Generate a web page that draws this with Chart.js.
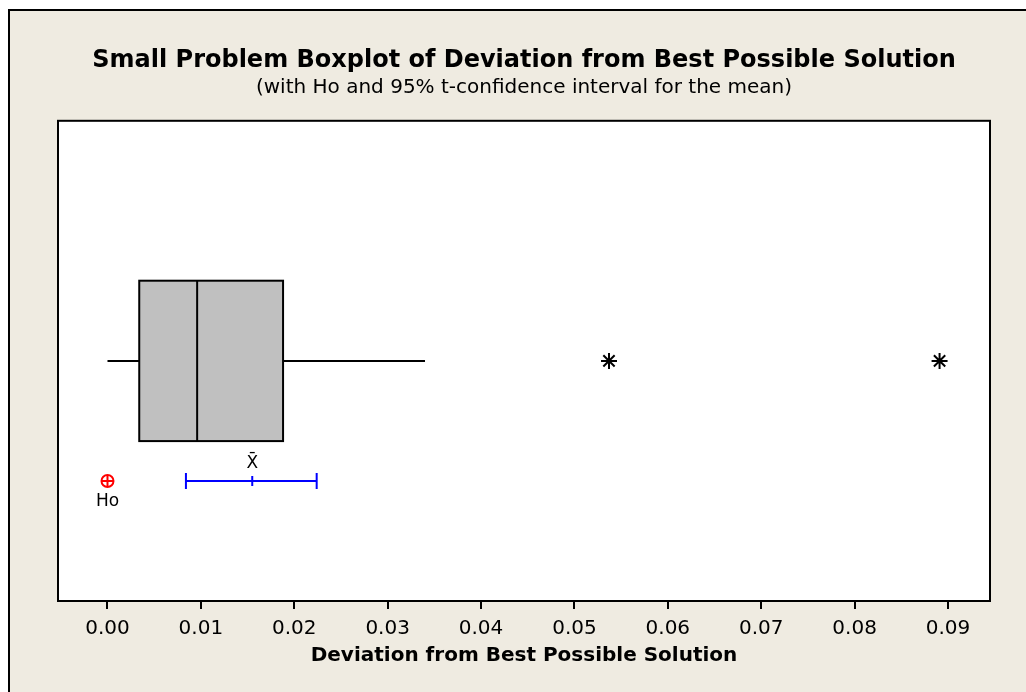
<!DOCTYPE html>
<html>
<head>
<meta charset="utf-8">
<script src="https://cdn.jsdelivr.net/npm/chart.js@4.4.1/dist/chart.umd.min.js"></script>
<style>
  html, body { margin: 0; padding: 0; background: #fff; }
  #wrap { width: 1026px; height: 692px; }
</style>
</head>
<body>
<div id="wrap"><canvas id="boxChart"></canvas></div>
<script>
// values
const xTicks = [0.00, 0.01, 0.02, 0.03, 0.04, 0.05, 0.06, 0.07, 0.08, 0.09];
const boxStats = [0.0, 0.0034, 0.0096, 0.0188, 0.034]; // low whisker, Q1, median, Q3, high whisker
const outliers = [0.0537, 0.0891];
const ciBounds = [0.0084, 0.0224];
const meanValue = 0.0155;
const hoValue = 0.0;

const BOX_Y = 0.5, BOX_HALF = 0.167, CI_Y = 0.25;
const FONT = "'DejaVu Sans', Verdana, sans-serif";

// draws the beige panel, white plot area, box and whiskers, and labels
const boxplotPlugin = {
    id: 'boxplotPlugin',
    beforeDraw(chart) {
        const c = chart.ctx, a = chart.chartArea;
        c.save();
        c.fillStyle = '#ffffff';
        c.fillRect(0, 0, chart.width, chart.height);
        c.fillStyle = '#efebe1';
        c.fillRect(9, 10, chart.width - 9, chart.height - 10);
        c.strokeStyle = '#000';
        c.lineWidth = 2;
        c.beginPath();
        c.moveTo(9, chart.height);
        c.lineTo(9, 10);
        c.lineTo(chart.width, 10);
        c.stroke();
        c.fillStyle = '#ffffff';
        c.fillRect(a.left, a.top, a.right - a.left, a.bottom - a.top);
        c.restore();
    },
    beforeDatasetsDraw(chart) {
        const c = chart.ctx, x = chart.scales.x, y = chart.scales.y;
        const [lo, q1, med, q3, hi] = boxStats.map(v => x.getPixelForValue(v));
        const yc = y.getPixelForValue(BOX_Y);
        const yt = y.getPixelForValue(BOX_Y + BOX_HALF);
        const yb = y.getPixelForValue(BOX_Y - BOX_HALF);
        c.save();
        c.strokeStyle = '#000';
        c.lineWidth = 2;
        c.beginPath();
        c.moveTo(lo, yc); c.lineTo(q1, yc);
        c.moveTo(q3, yc); c.lineTo(hi, yc);
        c.stroke();
        c.fillStyle = '#c0c0c0';
        c.fillRect(q1, yt, q3 - q1, yb - yt);
        c.strokeRect(q1, yt, q3 - q1, yb - yt);
        c.beginPath();
        c.moveTo(med, yt); c.lineTo(med, yb);
        c.stroke();
        c.restore();
    },
    afterDraw(chart) {
        const c = chart.ctx, a = chart.chartArea, x = chart.scales.x, y = chart.scales.y;
        c.save();
        c.strokeStyle = '#000';
        c.lineWidth = 2;
        c.strokeRect(a.left, a.top, a.right - a.left, a.bottom - a.top);
        c.fillStyle = '#000';
        c.font = '17px ' + FONT;
        c.textAlign = 'center';
        c.textBaseline = 'middle';
        c.fillText('X\u0304', x.getPixelForValue(meanValue), y.getPixelForValue(CI_Y) - 17);
        c.fillText('Ho', x.getPixelForValue(hoValue), y.getPixelForValue(CI_Y) + 21);
        c.restore();
    }
};

const ctx = document.getElementById('boxChart').getContext('2d');
new Chart(ctx, {
    type: 'scatter',
    data: {
        datasets: [{
            label: 'Outliers',
            data: outliers.map(v => ({ x: v, y: BOX_Y })),
            pointStyle: 'star',
            radius: 8,
            borderColor: '#000',
            borderWidth: 2
        }, {
            label: '95% CI',
            data: ciBounds.map(v => ({ x: v, y: CI_Y })),
            showLine: true,
            borderColor: '#0000ff',
            borderWidth: 2,
            pointStyle: 'line',
            rotation: 90,
            radius: 8,
            pointBorderColor: '#0000ff',
            pointBorderWidth: 2
        }, {
            label: 'Mean',
            data: [{ x: meanValue, y: CI_Y }],
            pointStyle: 'line',
            rotation: 90,
            radius: 5,
            borderColor: '#0000ff',
            borderWidth: 2
        }, {
            label: 'Ho',
            data: [{ x: hoValue, y: CI_Y }],
            pointStyle: 'circle',
            radius: 6,
            backgroundColor: 'rgba(0,0,0,0)',
            borderColor: '#ff0000',
            borderWidth: 2
        }, {
            label: 'Ho cross',
            data: [{ x: hoValue, y: CI_Y }],
            pointStyle: 'cross',
            radius: 6,
            borderColor: '#ff0000',
            borderWidth: 2
        }]
    },
    options: {
        responsive: true,
        maintainAspectRatio: false,
        animation: false,
        layout: { padding: { left: 58, right: 36, top: 0, bottom: 24 } },
        plugins: {
            legend: { display: false },
            tooltip: { enabled: false },
            title: {
                display: true,
                text: 'Small Problem Boxplot of Deviation from Best Possible Solution',
                color: '#000',
                font: { family: FONT, size: 24, weight: 'bold', lineHeight: 1.2 },
                padding: { top: 46, bottom: 1 }
            },
            subtitle: {
                display: true,
                text: '(with Ho and 95% t-confidence interval for the mean)',
                color: '#000',
                font: { family: FONT, size: 20, lineHeight: 1.2 },
                padding: { top: 0, bottom: 21 }
            }
        },
        scales: {
            x: {
                type: 'linear',
                min: -0.0053,
                max: 0.0945,
                afterBuildTicks: scale => { scale.ticks = xTicks.map(v => ({ value: v })); },
                afterFit: scale => { scale.height = 67; },
                ticks: {
                    color: '#000',
                    padding: 8,
                    font: { family: FONT, size: 20 },
                    callback: v => v.toFixed(2)
                },
                grid: { drawOnChartArea: false, drawTicks: true, tickLength: 8, color: '#000', lineWidth: 2 },
                border: { display: false },
                title: {
                    display: true,
                    text: 'Deviation from Best Possible Solution',
                    color: '#000',
                    font: { family: FONT, size: 20, weight: 'bold' },
                    padding: { top: 2, bottom: 0 }
                }
            },
            y: {
                type: 'linear',
                display: false,
                min: 0,
                max: 1
            }
        }
    },
    plugins: [boxplotPlugin]
});
</script>
</body>
</html>
